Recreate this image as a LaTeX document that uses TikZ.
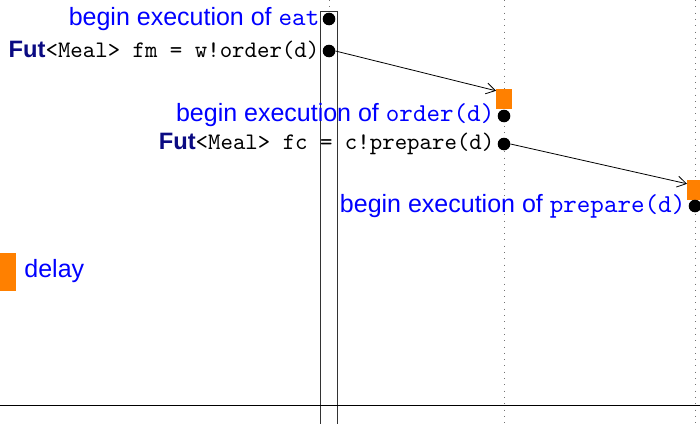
\documentclass[tikz,border=0pt]{standalone}
\usepackage{fontspec}
\setmainfont{Liberation Sans}
\setmonofont{lmmono10-regular.otf}
\usetikzlibrary{arrows.meta}
\definecolor{navy}{RGB}{10,10,130}
\definecolor{callblue}{RGB}{0,0,255}
\definecolor{waitorange}{RGB}{255,128,0}
\tikzset{
  lifeline/.style={draw=black!55, line width=1pt, dash pattern=on 1pt off 5.3pt},
  dot/.style={circle, fill=black, inner sep=0pt, minimum size=12.6pt},
  waitbar/.style={fill=waitorange, draw=none, inner sep=0pt, minimum width=15.5pt, minimum height=20pt},
  actbox/.style={draw=black!80, line width=0.9pt, inner sep=0pt, minimum width=17pt, minimum height=430pt},
  lbl/.style={text=callblue, inner sep=3pt, font=\fontsize{25}{30}\selectfont},
  code/.style={inner sep=3pt, font=\fontsize{23.7}{28}\selectfont\ttfamily},
  msg/.style={line width=0.8pt, -{Straight Barb[length=9pt,width=11pt]}},
}
\newcommand{\codett}[1]{{\fontsize{25.8}{30}\selectfont\ttfamily #1}}
\newcommand{\futkw}{{\rmfamily\bfseries\color{navy}Fut}}
\begin{document}
\begin{tikzpicture}[x=1pt,y=-1pt]
  \useasboundingbox (0,0) rectangle (700,423);

  % lifelines
  \node[actbox, anchor=north] (eatact) at (329,11) {};
  \draw[lifeline] (329,0) -- (eatact.north);
  \draw[lifeline] (504,0) -- (504,423);
  \draw[lifeline] (695,0) -- (695,423);

  % time axis
  \draw[line width=0.9pt] (0,405) -- (700,405);

  % eat
  \node[dot] (e1) at (329,19) {};
  \node[dot] (e2) at (329,51) {};
  \node[lbl, anchor=base east] (le1) at ([yshift=-6pt]e1.west) {begin execution of \codett{eat}};
  \node[code, anchor=base east] (le2) at ([yshift=-6pt]e2.west) {\futkw<Meal> fm = w!order(d)};

  % order
  \node[waitbar] (ordbar) at (504,99) {};
  \node[dot] (o1) at (504,116) {};
  \node[dot] (o2) at (504,144) {};
  \node[lbl, anchor=base east] (lo1) at ([yshift=-5.5pt]o1.west) {begin execution of \codett{order(d)}};
  \node[code, anchor=base east] (lo2) at ([yshift=-5.5pt]o2.west) {\futkw<Meal> fc = c!prepare(d)};

  % prepare
  \node[waitbar] (prepbar) at (695,190) {};
  \node[dot] (p1) at (695,206) {};
  \node[lbl, anchor=base east] (lp1) at ([yshift=-6.5pt]p1.west) {begin execution of \codett{prepare(d)}};

  % asynchronous calls
  \draw[msg] (e2.east) -- ([yshift=-2pt]ordbar.north west);
  \draw[msg] (o2.east) -- ([yshift=-4pt]prepbar.north west);

  % legend
  \node[waitbar, minimum width=16pt, minimum height=38pt] (delaybar) at (8,272) {};
  \node[lbl, anchor=base west, inner sep=0pt] (delaytxt) at ([xshift=8pt,yshift=-5pt]delaybar.east) {delay};
\end{tikzpicture}
\end{document}
